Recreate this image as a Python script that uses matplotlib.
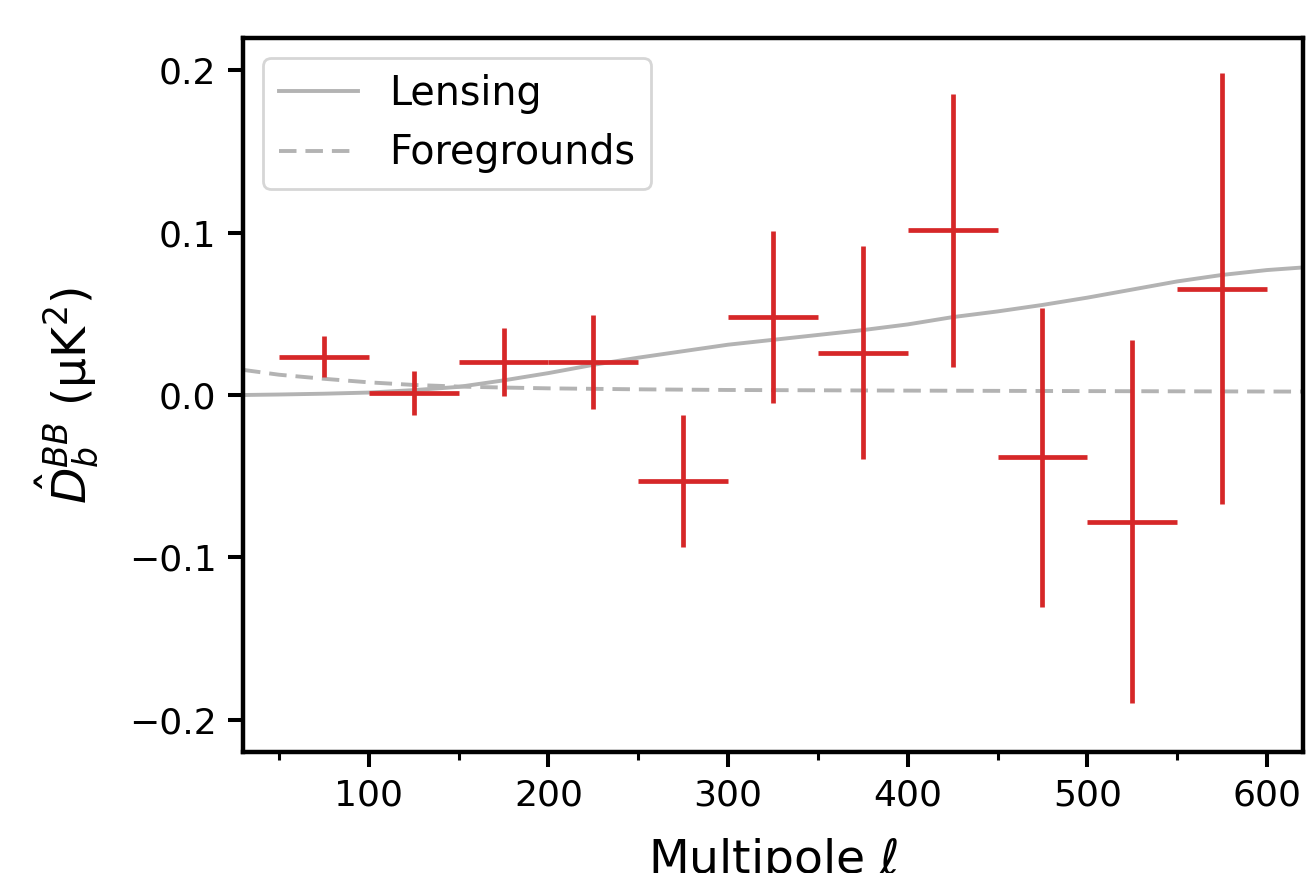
import numpy as np
import matplotlib
matplotlib.use("Agg")
import matplotlib.pyplot as plt

# Band powers
ell_bins = [75, 125, 175, 225, 275, 325, 375, 425, 475, 525, 575]
ell_halfwidth = [25] * 11
dbb = [0.0235, 0.0012, 0.0204, 0.0204, -0.053, 0.048, 0.026, 0.1015, -0.0384, -0.078, 0.0656]
dbb_err = [0.0127, 0.0136, 0.021, 0.029, 0.0405, 0.053, 0.0656, 0.0842, 0.092, 0.112, 0.133]

# Lensing model
ell_lens = [30, 50, 75, 100, 125, 150, 175, 200, 225, 250, 275, 300, 325, 350,
            375, 400, 425, 450, 475, 500, 525, 550, 575, 600, 620]
lens = [0.0, 0.0003, 0.0008, 0.0015, 0.003, 0.005, 0.009, 0.0135, 0.0186, 0.023,
        0.027, 0.031, 0.034, 0.037, 0.040, 0.0435, 0.048, 0.0515, 0.0555, 0.060,
        0.065, 0.070, 0.074, 0.077, 0.0786]

# Foreground model
ell_fg = [30, 50, 75, 100, 125, 150, 175, 200, 250, 300, 400, 500, 620]
fg = [0.0155, 0.0125, 0.0100, 0.0078, 0.0062, 0.0052, 0.0046, 0.0041, 0.0035,
      0.0031, 0.0027, 0.0024, 0.0021]

fig = plt.figure(figsize=(13.06, 8.73), dpi=100)
ax = fig.add_axes([243/1306, 1-752/873, (1303-243)/1306, (752-38)/873])

gray = '#b3b3b3'
ax.plot(ell_lens, lens, color=gray, lw=2.8, label='Lensing')
ax.plot(ell_fg, fg, color=gray, lw=2.8, ls=(0, (4.5, 2.3)), label='Foregrounds')
ax.errorbar(ell_bins, dbb, xerr=ell_halfwidth, yerr=dbb_err, fmt='none',
            ecolor='#d62728', elinewidth=3.4, capsize=0)

ax.set_xlim(30, 620)
ax.set_ylim(-0.22, 0.22)
ax.set_xticks([100, 200, 300, 400, 500, 600])
ax.set_xticks([50, 150, 250, 350, 450, 550], minor=True)
ax.set_yticks([-0.2, -0.1, 0.0, 0.1, 0.2])
ax.set_yticklabels(['\u22120.2', '\u22120.1', '0.0', '0.1', '0.2'])

for s in ax.spines.values():
    s.set_linewidth(3.2)
ax.tick_params(which='major', length=11, width=2.9, labelsize=26, pad=8)
ax.tick_params(which='minor', length=6, width=2.2)

ax.set_xlabel(r'Multipole $\ell$', fontsize=34, labelpad=17)
ax.set_ylabel(r'$\hat{D}_b^{BB}$ ($\mathrm{\mu K}^2$)', fontsize=34, labelpad=20)

leg = ax.legend(loc='upper left', fontsize=28.5, handlelength=2.0)
leg.get_frame().set_linewidth(2)

fig.savefig('out.png', dpi=100)
